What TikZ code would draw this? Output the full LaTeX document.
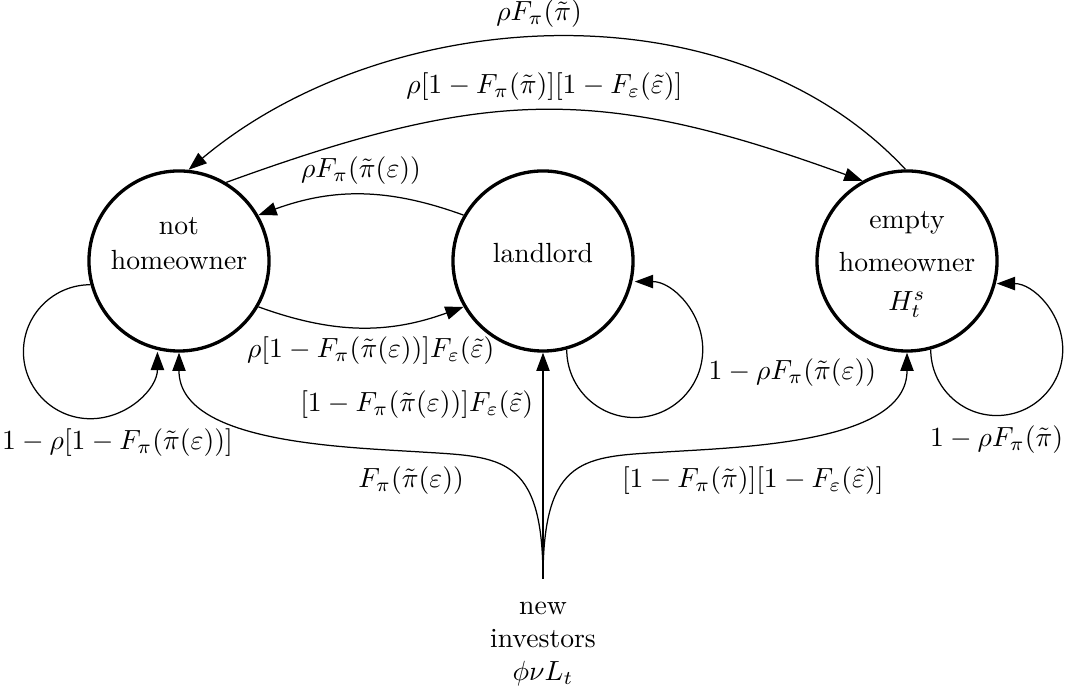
\documentclass[tikz,border=0pt]{standalone}
\usetikzlibrary{arrows.meta}
\begin{document}
\begin{tikzpicture}[x=0.361pt, y=0.361pt,
  state/.style={circle, draw, line width=1.2pt, minimum size=65pt, inner sep=0pt},
  conn/.style={line width=0.45pt, -{Triangle[length=6.6pt,width=4.8pt]}}]
\useasboundingbox (0,0) rectangle (1066,694);
% states
\node[state] (nh) at (179,433) {\raisebox{-2.9pt}[0pt][0pt]{\begin{tabular}[b]{@{}c@{}}not\\[0.6pt]homeowner\end{tabular}}};
\node[state] (ll) at (543,433) {\raisebox{-0.7pt}[0pt][0pt]{landlord}};
\node[state] (eh) at (907,433) {\raisebox{-18pt}[0pt][0pt]{\begin{tabular}[b]{@{}c@{}}empty\\[3.6pt]homeowner\\[2.2pt]$H_t^s$\end{tabular}}};
\node[align=center, inner xsep=3pt, inner ysep=8pt, anchor=north] (ni) at (543,115) {new\\investors\\$\phi\nu L_t$};
% top arcs
\draw[conn] (eh.91) to[out=133, in=40, looseness=0.92] node[above, pos=0.52] {$\rho F_\pi(\tilde\pi)$} (nh.84);
\draw[conn] (nh.59) to[out=20, in=160, looseness=1.12] node[above] {$\rho[1-F_\pi(\tilde\pi)][1-F_\varepsilon(\tilde\varepsilon)]$} (eh.119);
% between nh and ll
\draw[conn] (ll.150) to[out=160, in=20] node[above] {$\rho F_\pi(\tilde\pi(\varepsilon))$} (nh.30);
\draw[conn] (nh.-30) to[out=-20, in=200] node[below, pos=0.55] {$\rho[1-F_\pi(\tilde\pi(\varepsilon))]F_\varepsilon(\tilde\varepsilon)$} (ll.210);
% self loops
\draw[conn] (nh.195) arc[start angle=90, end angle=360, radius=67] node[below, pos=0.667, xshift=9.7pt] {$1-\rho[1-F_\pi(\tilde\pi(\varepsilon))]$};
\draw[conn] (ll.-75) arc[start angle=180, end angle=450, radius=68] node[pos=0.593, anchor=west] {$1-\rho F_\pi(\tilde\pi(\varepsilon))$};
\draw[conn] (eh.-75) arc[start angle=180, end angle=450, radius=66] node[pos=0.333, below] {$1-\rho F_\pi(\tilde\pi)$};
% new investors
\draw[conn] (ni.north) -- node[left, pos=0.77] {$[1-F_\pi(\tilde\pi(\varepsilon))]F_\varepsilon(\tilde\varepsilon)$} (ll.south);
\draw[conn] (ni.north) .. controls (543,239) and (501,237) .. (421,242) node[pos=0.75, below left] {$F_\pi(\tilde\pi(\varepsilon))$} .. controls (341,247) and +(0,-90) .. (nh.south);
\draw[conn] (ni.north) .. controls (543,239) and (585,237) .. (665,242) node[pos=0.75, below right] {$[1-F_\pi(\tilde\pi)][1-F_\varepsilon(\tilde\varepsilon)]$} .. controls (745,247) and +(0,-90) .. (eh.south);
\end{tikzpicture}
\end{document}
